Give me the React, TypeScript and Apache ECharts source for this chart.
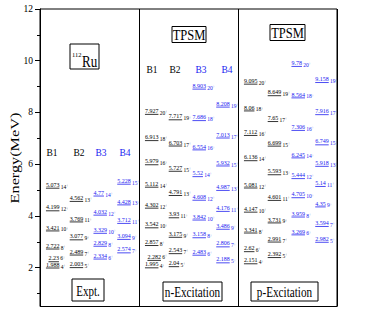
import React, { useEffect, useRef } from "react";
import * as echarts from "echarts";

const FONT = '"Liberation Serif","Times New Roman",serif';
const BLACK = "#000000";
const BLUE = "#2020f0";

// ---------- data ----------
const panelLabels = ["Expt.", "n-Excitation", "p-Excitation"];
const bandNames = ["B1", "B2", "B3", "B4"];
const yMajorTicks = [2, 4, 6, 8, 10, 12];
const yMinorTicks = [1, 3, 5, 7, 9, 11];

// Expt.
const exptB1E = [5.073, 4.199, 3.421, 2.722, 2.23, 1.988];
const exptB1J = [14, 12, 10, 8, 6, 4];
const exptB2E = [4.562, 3.769, 3.077, 2.489, 2.003];
const exptB2J = [13, 11, 9, 7, 5];
const exptB3E = [4.77, 4.032, 3.329, 2.829, 2.334];
const exptB3J = [14, 12, 10, 8, 6];
const exptB4E = [5.228, 4.428, 3.712, 3.094, 2.574];
const exptB4J = [15, 13, 11, 9, 7];

// TPSM n-Excitation
const nB1E = [7.927, 6.913, 5.979, 5.112, 4.302, 3.542, 2.857, 2.282, 1.995];
const nB1J = [20, 18, 16, 14, 12, 10, 8, 6, 4];
const nB2E = [7.717, 6.703, 5.727, 4.791, 3.93, 3.175, 2.543, 2.04];
const nB2J = [19, 17, 15, 13, 11, 9, 7, 5];
const nB3E = [8.903, 7.686, 6.554, 5.52, 4.608, 3.842, 3.158, 2.483];
const nB3J = [20, 18, 16, 14, 12, 10, 8, 6];
const nB4E = [8.208, 7.013, 5.932, 4.987, 4.176, 3.486, 2.806, 2.188];
const nB4J = [19, 17, 15, 13, 11, 9, 7, 5];

// TPSM p-Excitation
const pB1E = [9.095, 8.06, 7.112, 6.136, 5.081, 4.147, 3.341, 2.62, 2.151];
const pB1J = [20, 18, 16, 14, 12, 10, 8, 6, 4];
const pB2E = [8.649, 7.65, 6.699, 5.593, 4.601, 3.731, 2.991, 2.392];
const pB2J = [19, 17, 15, 13, 11, 9, 7, 5];
const pB3E = [9.78, 8.564, 7.306, 6.245, 5.444, 4.705, 3.959, 3.269];
const pB3J = [20, 18, 16, 14, 12, 10, 8, 6];
const pB4E = [9.158, 7.916, 6.749, 5.918, 5.14, 4.35, 3.594, 2.982];
const pB4J = [19, 17, 15, 13, 11, 9, 7, 5];

const bands = [
  [0, 0, exptB1E, exptB1J], [0, 1, exptB2E, exptB2J], [0, 2, exptB3E, exptB3J], [0, 3, exptB4E, exptB4J],
  [1, 0, nB1E, nB1J], [1, 1, nB2E, nB2J], [1, 2, nB3E, nB3J], [1, 3, nB4E, nB4J],
  [2, 0, pB1E, pB1J], [2, 1, pB2E, pB2J], [2, 2, pB3E, pB3J], [2, 3, pB4E, pB4J],
] as [number, number, number[], number[]][];

// ---------- styling ----------
const colOffsets = [0.06, 0.3, 0.54, 0.78];
const VAL_FS = 6;

function textWidth(s: string, fs: number) {
  let w = 0;
  for (const ch of s) w += ch === "." ? 0.25 * fs : 0.5 * fs;
  return w;
}

// [panel, col, energy, spin, crowded-by-lower-level flag]
const levelData: number[][] = [];
bands.forEach(([panel, col, E, J]) => {
  E.forEach((e, i) => {
    const lower = E[i + 1];
    const crowded = lower !== undefined && e - lower < 0.3 ? 1 : 0;
    levelData.push([panel, col, e, J[i], crowded]);
  });
});

function App() {
  const ref = useRef<HTMLDivElement>(null);
  useEffect(() => {
    document.body.style.margin = "0";
    if (!ref.current) return;
    const chart = echarts.init(ref.current, null, { renderer: "svg" });

    const headerX = [
      [52, 79, 101, 125],
      [152, 175, 201, 227],
    ];
    const headerY = [152, 69];
    const graphic: any[] = [];
    headerX.forEach((xs, p) =>
      xs.forEach((x, c) =>
        graphic.push({
          type: "text",
          x,
          y: headerY[p],
          scaleY: 1.2,
          style: {
            text: bandNames[c],
            fill: c < 2 ? BLACK : BLUE,
            font: `9.5px ${FONT}`,
            align: "center",
            verticalAlign: "middle",
          },
        })
      )
    );
    const box = (x: number, y: number, w: number, h: number) => ({
      type: "rect",
      shape: { x, y, width: w, height: h },
      style: { fill: "#fff", stroke: BLACK, lineWidth: 1 },
      z: 10,
    });
    const label = (text: string, x: number, y: number, fs: number, sy: number) => ({
      type: "text",
      x,
      y,
      scaleY: sy,
      z: 11,
      style: { text, fill: BLACK, font: `${fs}px ${FONT}`, align: "center", verticalAlign: "middle" },
    });
    graphic.push(
      box(70, 44, 29, 25),
      {
        type: "text", x: 72, y: 54, z: 11,
        style: { text: "112", fill: BLACK, font: `6.5px ${FONT}`, align: "left", verticalAlign: "middle" },
      },
      {
        type: "text", x: 82, y: 61.5, z: 11, scaleY: 1.3,
        style: { text: "Ru", fill: BLACK, font: `13px ${FONT}`, align: "left", verticalAlign: "middle" },
      },
      box(172, 26.5, 34, 16),
      label("TPSM", 189, 34.8, 12.5, 1.2),
      box(270, 24.5, 35, 16),
      label("TPSM", 287.5, 32.8, 12.5, 1.2),
      box(72, 279, 32, 22),
      label(panelLabels[0], 88, 290.5, 11, 1.35),
      box(163, 282, 59, 19),
      label(panelLabels[1], 192.5, 291.5, 11.2, 1.3),
      box(251, 282, 67, 19),
      label(panelLabels[2], 284.5, 291.5, 11.2, 1.3),
      {
        type: "text",
        x: 15,
        y: 158,
        rotation: Math.PI / 2,
        scaleX: 1.25,
        style: {
          text: "Energy(MeV)",
          fill: BLACK,
          font: `13px ${FONT}`,
          align: "center",
          verticalAlign: "middle",
        },
      }
    );

    chart.setOption({
      animation: false,
      grid: {
        left: 40,
        right: 36,
        top: 9,
        bottom: 7.5,
        show: true,
        borderColor: BLACK,
        borderWidth: 1,
        backgroundColor: "transparent",
      },
      xAxis: {
        type: "value",
        min: 0,
        max: 3,
        interval: 1,
        axisLine: { show: false },
        axisTick: { show: false },
        axisLabel: { show: false },
        splitLine: { show: true, lineStyle: { color: BLACK, width: 1 } },
      },
      yAxis: [
        {
          type: "value",
          min: 0.5,
          max: 12,
          position: "left",
          axisLine: { show: true, lineStyle: { color: BLACK, width: 1 } },
          axisTick: { show: true, customValues: yMajorTicks, length: 5, lineStyle: { color: BLACK } },
          axisLabel: {
            customValues: yMajorTicks,
            fontFamily: FONT,
            fontSize: 9.5,
            color: BLACK,
            margin: 7,
          },
          splitLine: { show: false },
        },
        {
          type: "value",
          min: 0.5,
          max: 12,
          position: "left",
          axisLine: { show: false },
          axisTick: { show: true, customValues: yMinorTicks, length: 3, lineStyle: { color: BLACK } },
          axisLabel: { show: false },
          splitLine: { show: false },
        },
      ],
      graphic,
      series: [
        {
          type: "custom",
          xAxisIndex: 0,
          yAxisIndex: 0,
          clip: false,
          dimensions: ["panel", "col", "E", "J", "crowded"],
          encode: { x: 0, y: 2 },
          data: levelData,
          renderItem: (params: any, api: any) => {
            const panel = api.value(0);
            const col = api.value(1);
            const E = api.value(2);
            const J = api.value(3);
            const crowded = api.value(4);
            const pt = api.coord([panel + colOffsets[col], E]);
            const x0 = pt[0] + (crowded ? 2.5 : 0);
            const y = pt[1];
            const txt = String(E);
            const w = textWidth(txt, VAL_FS);
            const color = col < 2 ? BLACK : BLUE;
            return {
              type: "group",
              children: [
                {
                  type: "line",
                  shape: { x1: x0, y1: y, x2: x0 + w, y2: y },
                  style: { stroke: color, lineWidth: 0.8 },
                },
                {
                  type: "text",
                  x: x0,
                  y: y - 0.6,
                  style: {
                    text: txt,
                    fill: color,
                    font: `${VAL_FS}px ${FONT}`,
                    lineHeight: 5.5,
                    align: "left",
                    verticalAlign: "bottom",
                  },
                },
                {
                  type: "text",
                  x: x0 + w + 1.2,
                  y: y + (crowded ? -0.5 : 1.3),
                  style: {
                    text: `{n|${J}}{s|+}`,
                    align: "left",
                    verticalAlign: "bottom",
                    rich: {
                      n: { fontSize: 5.5, lineHeight: 5.5, fontFamily: FONT, fill: color },
                      s: { fontSize: 3.5, lineHeight: 5.5, fontFamily: FONT, fill: color, verticalAlign: "top" },
                    },
                  },
                },
              ],
            };
          },
        },
      ],
    });
    return () => chart.dispose();
  }, []);
  return <div ref={ref} style={{ width: 373, height: 314 }} />;
}

export default App;
